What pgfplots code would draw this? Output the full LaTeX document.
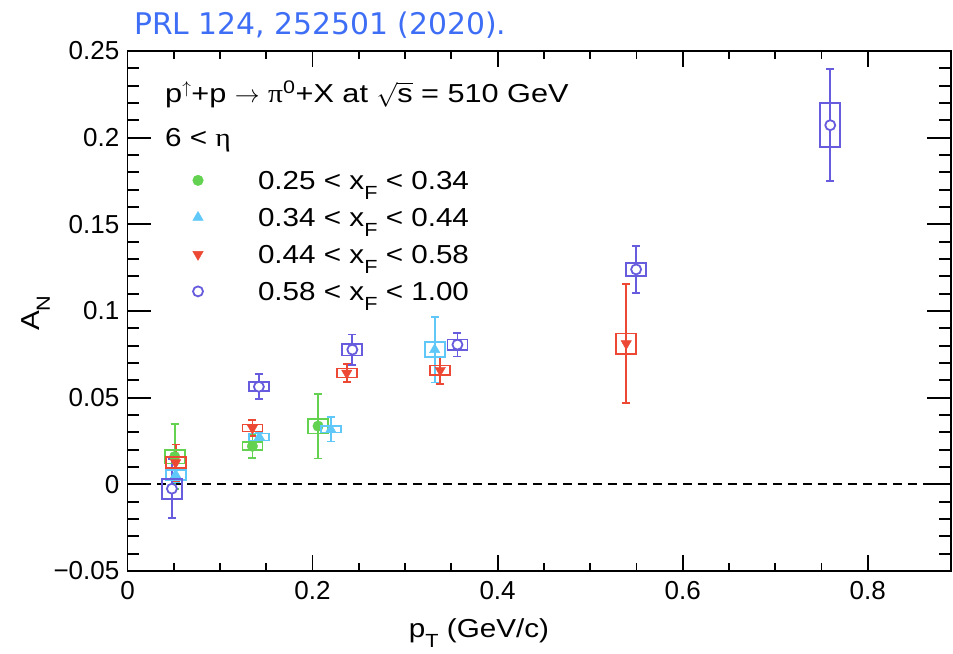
\documentclass[border=0pt]{standalone}
\usepackage{pgfplots}
\pgfplotsset{compat=1.18}
\usepackage{pgfplotstable}
\usepackage{fontspec}
\setmainfont{Liberation Sans}
\newfontfamily\widefont{Liberation Sans}[FakeStretch=1.14]
\newfontfamily\hdrfont{Liberation Sans}[FakeStretch=1.18]
\newfontfamily\titlefont{DejaVu Sans}
\newfontfamily\seriffont{Liberation Serif}[FakeStretch=1.14]
\definecolor{cgreen}{RGB}{98,210,80}
\definecolor{ccyan}{RGB}{95,200,248}
\definecolor{cred}{RGB}{236,72,52}
\definecolor{cpurple}{RGB}{104,92,222}
\definecolor{ctitle}{RGB}{62,110,245}
\newcommand\fs{\fontsize{26bp}{31bp}\selectfont}
\newcommand\wfs{\widefont\fontsize{26bp}{31bp}\selectfont}
\newcommand\sub[1]{\raisebox{-10bp}{\fontsize{19bp}{19bp}\selectfont #1}}
\pgfdeclareplotmark{nomark}{}

% x = pT, y = A_N, stat = statistical error, sys = systematic half-height
\pgfplotstableread{
x y stat sys
0.051 0.0160 0.0186 0.0040
0.135 0.0220 0.0070 0.0023
0.206 0.0336 0.0187 0.0043
}\greendata
\pgfplotstableread{
x y stat sys
0.052 0.0055 0.0040 0.0030
0.1425 0.0273 0.0030 0.0020
0.2197 0.0317 0.0070 0.0018
0.332 0.0777 0.0190 0.0043
}\cyandata
\pgfplotstableread{
x y stat sys
0.052 0.0125 0.0105 0.0032
0.135 0.0325 0.0045 0.0020
0.237 0.0642 0.0050 0.0026
0.338 0.0658 0.0077 0.0027
0.539 0.0812 0.0345 0.0058
}\reddata
\pgfplotstableread{
x y stat sys
0.048 -0.0025 0.0170 0.0058
0.142 0.0563 0.0072 0.0026
0.243 0.0777 0.0087 0.0034
0.3566 0.0806 0.0069 0.0029
0.5497 0.1240 0.0134 0.0038
0.7595 0.2072 0.0323 0.0127
}\purpledata

\pgfplotsset{
  sysbox/.style={forget plot, only marks, scatter, point meta=y, mark=nomark,
    visualization depends on={\thisrow{sys}*1733.33 \as \sysh},
    scatter/@pre marker code/.code={\draw[#1, line width=1.8bp] (-10bp,-\sysh bp) rectangle (10bp,\sysh bp);},
    scatter/@post marker code/.code={}},
  statbars/.style={only marks, #1,
    error bars/y dir=both, error bars/y explicit,
    error bars/error bar style={#1, line width=1.8bp},
    error bars/error mark options={#1, rotate=90, line width=1.8bp, mark size=4bp}},
}

\begin{document}
\begin{tikzpicture}
\useasboundingbox (-127.5bp,-83bp) rectangle (825.5bp,571bp);
\begin{axis}[
  at={(0,0)}, anchor=south west,
  scale only axis, width=823.5bp, height=520bp,
  xmin=0, xmax=0.89, ymin=-0.05, ymax=0.25,
  xtick={0,0.2,0.4,0.6,0.8}, xticklabels={0,0.2,0.4,0.6,0.8},
  ytick={-0.05,0,0.05,0.1,0.15,0.2,0.25},
  yticklabels={−0.05,0,0.05,0.1,0.15,0.2,0.25},
  minor x tick num=3, minor y tick num=4,
  tick align=inside, tick pos=both,
  axis line style={line width=1.8bp},
  every tick/.style={black, line width=1.8bp},
  xtick style={/pgfplots/major tick length=15.6bp, /pgfplots/minor tick length=7.8bp},
  ytick style={/pgfplots/major tick length=24bp, /pgfplots/minor tick length=12bp},
  ticklabel style={font=\fs},
  xticklabel style={anchor=base, inner sep=0pt, yshift=-28bp},
  yticklabel style={anchor=east, inner sep=0pt, xshift=-8bp},
  xlabel={p\sub{T} (GeV/c)},
  xlabel style={at={(rel axis cs:0.4268,0)}, anchor=base, inner sep=0pt, yshift=-66bp, font=\wfs},
  ylabel={A\sub{N}},
  ylabel style={at={(rel axis cs:0,0.496)}, anchor=base, inner sep=0pt, yshift=87.5bp, font=\wfs},
  legend cell align=left,
  legend image code/.code={\path[draw=none,fill=none] (0bp,-2bp) rectangle (70bp,2bp); \draw[#1] plot coordinates {(10bp,3bp)};},
  legend style={at={(axis cs:0.0654,0.1817)}, anchor=north west, draw=none, fill=none,
    inner sep=0pt, outer sep=0pt, row sep=9bp, column sep=0bp, font=\wfs,
    nodes={inner sep=0pt, text height=20bp, text depth=8bp}},
]
\addplot[forget plot, black, line width=1.8bp, dash pattern=on 9bp off 6bp] coordinates {(0,0) (0.89,0)};

\addplot[sysbox=cgreen] table[x=x,y=y] {\greendata};
\addplot[statbars=cgreen, mark=*, mark size=5.3bp] table[x=x,y=y,y error=stat] {\greendata};
\addlegendentry{0.25 < x\sub{F} < 0.34}

\addplot[sysbox=ccyan] table[x=x,y=y] {\cyandata};
\addplot[statbars=ccyan, mark=triangle*, mark size=6bp] table[x=x,y=y,y error=stat] {\cyandata};
\addlegendentry{0.34 < x\sub{F} < 0.44}

\addplot[sysbox=cred] table[x=x,y=y] {\reddata};
\addplot[statbars=cred, mark=triangle*, mark size=6bp, mark options={rotate=180}] table[x=x,y=y,y error=stat] {\reddata};
\addlegendentry{0.44 < x\sub{F} < 0.58}

\addplot[sysbox=cpurple] table[x=x,y=y] {\purpledata};
\addplot[statbars=cpurple, mark=*, mark size=5bp, mark options={fill=white, line width=1.8bp}] table[x=x,y=y,y error=stat] {\purpledata};
\addlegendentry{0.58 < x\sub{F} < 1.00}
\end{axis}
\node[anchor=base west, inner sep=0pt, font=\hdrfont\fontsize{26bp}{31bp}\selectfont] at (37.5bp,468bp)
  {p$^{\uparrow}$+p $\rightarrow$ {\seriffont π}\textsuperscript{0}+X at $\sqrt{\mbox{s}}$ = 510 GeV};
\node[anchor=base west, inner sep=0pt, font=\wfs] at (37.5bp,424bp) {6 < {\seriffont η}};
\node[anchor=base west, inner sep=0pt, text=ctitle, font=\titlefont\fontsize{29.8bp}{34bp}\selectfont] at (6.5bp,536bp) {PRL 124, 252501 (2020).};
\end{tikzpicture}
\end{document}
